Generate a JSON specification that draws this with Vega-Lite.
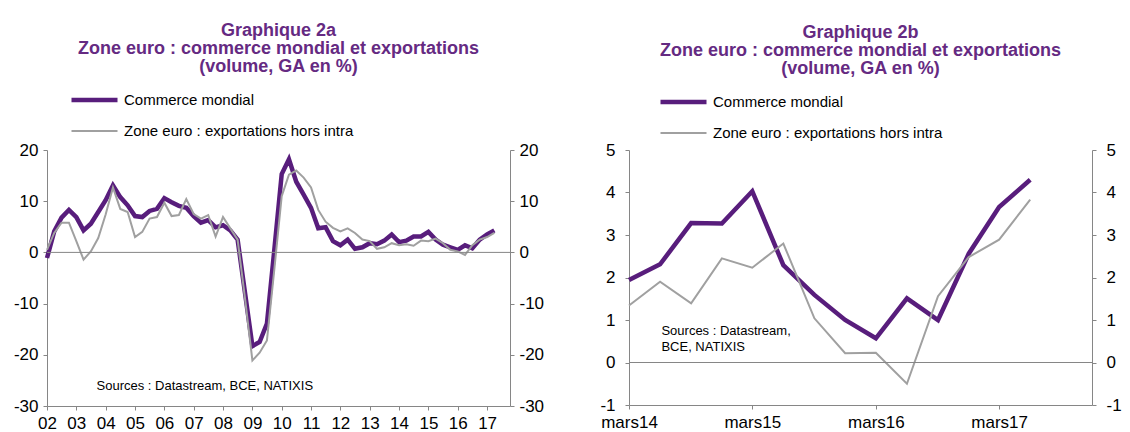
{
  "$schema": "https://vega.github.io/schema/vega-lite/v6.json",
  "padding": {"left": 13, "top": 22, "right": 0, "bottom": 0},
  "spacing": 55,
  "resolve": {"scale": {"color": "independent", "strokeWidth": "independent"}, "legend": {"color": "independent", "strokeWidth": "independent"}},
  "config": {
    "font": "Liberation Sans",
    "view": {"stroke": null},
    "axis": {"domainColor": "#868686", "tickColor": "#868686", "tickSize": 4, "labelFontSize": 17, "labelColor": "#000000", "labelFont": "Liberation Sans", "grid": false, "title": null, "labelPadding": 5, "labelFlush": false, "labelOverlap": false},
    "axisX": {"labelPadding": 5},
    "title": {"font": "Liberation Sans", "fontSize": 18, "fontWeight": "bold", "color": "#652a82", "lineHeight": 18, "anchor": "middle", "offset": 16},
    "legend": {"orient": "none", "title": null, "symbolType": "stroke", "symbolSize": 2116, "clipHeight": 16, "labelFontSize": 15, "labelFont": "Liberation Sans", "labelColor": "#000000", "rowPadding": 15, "labelOffset": 4, "padding": 0, "direction": "vertical", "labelLimit": 400}
  },
  "datasets": {
    "a": [
      {"date": "2002-01-01", "cm": -1.1, "ze": 0.5}, {"date": "2002-04-01", "cm": 4.1, "ze": 3.8}, {"date": "2002-07-01", "cm": 6.8, "ze": 5.8}, {"date": "2002-10-01", "cm": 8.3, "ze": 5.8},
      {"date": "2003-01-01", "cm": 6.9, "ze": 2.2}, {"date": "2003-04-01", "cm": 4.3, "ze": -1.4}, {"date": "2003-07-01", "cm": 5.6, "ze": 0.2}, {"date": "2003-10-01", "cm": 7.9, "ze": 2.8},
      {"date": "2004-01-01", "cm": 10.2, "ze": 7.4}, {"date": "2004-04-01", "cm": 13.1, "ze": 12.7}, {"date": "2004-07-01", "cm": 10.8, "ze": 8.5}, {"date": "2004-10-01", "cm": 9.2, "ze": 7.9},
      {"date": "2005-01-01", "cm": 7.1, "ze": 3.0}, {"date": "2005-04-01", "cm": 6.9, "ze": 4.0}, {"date": "2005-07-01", "cm": 8.1, "ze": 6.6}, {"date": "2005-10-01", "cm": 8.5, "ze": 6.9},
      {"date": "2006-01-01", "cm": 10.6, "ze": 9.7}, {"date": "2006-04-01", "cm": 9.8, "ze": 7.1}, {"date": "2006-07-01", "cm": 9.1, "ze": 7.3}, {"date": "2006-10-01", "cm": 8.7, "ze": 10.4},
      {"date": "2007-01-01", "cm": 7.1, "ze": 7.5}, {"date": "2007-04-01", "cm": 5.8, "ze": 6.6}, {"date": "2007-07-01", "cm": 6.3, "ze": 7.3}, {"date": "2007-10-01", "cm": 4.9, "ze": 3.1},
      {"date": "2008-01-01", "cm": 5.3, "ze": 6.9}, {"date": "2008-04-01", "cm": 4.3, "ze": 4.7}, {"date": "2008-07-01", "cm": 2.5, "ze": 2.5}, {"date": "2008-10-01", "cm": -7.9, "ze": -9.0},
      {"date": "2009-01-01", "cm": -18.3, "ze": -21.1}, {"date": "2009-04-01", "cm": -17.5, "ze": -19.6}, {"date": "2009-07-01", "cm": -13.9, "ze": -17.2}, {"date": "2009-10-01", "cm": 0.5, "ze": -3.3},
      {"date": "2010-01-01", "cm": 15.3, "ze": 11.0}, {"date": "2010-04-01", "cm": 18.2, "ze": 15.2}, {"date": "2010-07-01", "cm": 13.8, "ze": 16.0}, {"date": "2010-10-01", "cm": 11.3, "ze": 14.6},
      {"date": "2011-01-01", "cm": 8.7, "ze": 12.7}, {"date": "2011-04-01", "cm": 4.7, "ze": 8.3}, {"date": "2011-07-01", "cm": 4.9, "ze": 6.0}, {"date": "2011-10-01", "cm": 2.2, "ze": 4.8},
      {"date": "2012-01-01", "cm": 1.4, "ze": 4.1}, {"date": "2012-04-01", "cm": 2.5, "ze": 4.7}, {"date": "2012-07-01", "cm": 0.7, "ze": 3.8}, {"date": "2012-10-01", "cm": 1.0, "ze": 2.5},
      {"date": "2013-01-01", "cm": 1.8, "ze": 2.2}, {"date": "2013-04-01", "cm": 1.6, "ze": 0.7}, {"date": "2013-07-01", "cm": 2.3, "ze": 1.0}, {"date": "2013-10-01", "cm": 3.5, "ze": 1.8},
      {"date": "2014-01-01", "cm": 2.0, "ze": 1.4}, {"date": "2014-04-01", "cm": 2.3, "ze": 1.6}, {"date": "2014-07-01", "cm": 3.1, "ze": 1.3}, {"date": "2014-10-01", "cm": 3.1, "ze": 2.3},
      {"date": "2015-01-01", "cm": 4.0, "ze": 2.2}, {"date": "2015-04-01", "cm": 2.5, "ze": 2.7}, {"date": "2015-07-01", "cm": 1.5, "ze": 1.8}, {"date": "2015-10-01", "cm": 1.0, "ze": 0.5},
      {"date": "2016-01-01", "cm": 0.5, "ze": 0.2}, {"date": "2016-04-01", "cm": 1.4, "ze": -0.5}, {"date": "2016-07-01", "cm": 0.8, "ze": 1.4}, {"date": "2016-10-01", "cm": 2.5, "ze": 2.5},
      {"date": "2017-01-01", "cm": 3.5, "ze": 3.0}, {"date": "2017-04-01", "cm": 4.3, "ze": 3.8}
    ],
    "b": [
      {"date": "2014-03-01", "cm": 1.94, "ze": 1.34}, {"date": "2014-06-01", "cm": 2.31, "ze": 1.90}, {"date": "2014-09-01", "cm": 3.28, "ze": 1.39}, {"date": "2014-12-01", "cm": 3.27, "ze": 2.45},
      {"date": "2015-03-01", "cm": 4.03, "ze": 2.23}, {"date": "2015-06-01", "cm": 2.29, "ze": 2.80}, {"date": "2015-09-01", "cm": 1.59, "ze": 1.04}, {"date": "2015-12-01", "cm": 1.0, "ze": 0.22},
      {"date": "2016-03-01", "cm": 0.57, "ze": 0.23}, {"date": "2016-06-01", "cm": 1.51, "ze": -0.50}, {"date": "2016-09-01", "cm": 1.0, "ze": 1.56}, {"date": "2016-12-01", "cm": 2.56, "ze": 2.48},
      {"date": "2017-03-01", "cm": 3.66, "ze": 2.89}, {"date": "2017-06-01", "cm": 4.3, "ze": 3.83}
    ]
  },
  "hconcat": [
    {
      "width": 463,
      "height": 256,
      "title": {"text": ["Graphique 2a", "Zone euro : commerce mondial et exportations", "(volume, GA en %)"], "lineHeight": 18},
      "layer": [
        {
          "data": {"name": "a"},
          "transform": [{"fold": ["cm", "ze"], "as": ["serie", "val"]}],
          "mark": {"type": "line"},
          "encoding": {
            "x": {"field": "date", "type": "temporal", "scale": {"type": "utc", "domain": [{"year": 2002, "month": 1, "date": 1, "utc": true}, {"year": 2017, "month": 10, "date": 13, "utc": true}]},
              "axis": {"format": "%y", "labelOverlap": false, "values": [
                {"year": 2002, "month": 1, "date": 1, "utc": true}, {"year": 2003, "month": 1, "date": 1, "utc": true}, {"year": 2004, "month": 1, "date": 1, "utc": true}, {"year": 2005, "month": 1, "date": 1, "utc": true},
                {"year": 2006, "month": 1, "date": 1, "utc": true}, {"year": 2007, "month": 1, "date": 1, "utc": true}, {"year": 2008, "month": 1, "date": 1, "utc": true}, {"year": 2009, "month": 1, "date": 1, "utc": true},
                {"year": 2010, "month": 1, "date": 1, "utc": true}, {"year": 2011, "month": 1, "date": 1, "utc": true}, {"year": 2012, "month": 1, "date": 1, "utc": true}, {"year": 2013, "month": 1, "date": 1, "utc": true},
                {"year": 2014, "month": 1, "date": 1, "utc": true}, {"year": 2015, "month": 1, "date": 1, "utc": true}, {"year": 2016, "month": 1, "date": 1, "utc": true}, {"year": 2017, "month": 1, "date": 1, "utc": true}
              ]}},
            "y": {"field": "val", "type": "quantitative", "scale": {"domain": [-30, 20], "nice": false}, "axis": {"values": [-30, -20, -10, 0, 10, 20], "labelExpr": "'' + datum.value"}},
            "color": {"field": "serie", "type": "nominal", "scale": {"domain": ["cm", "ze"], "range": ["#581d7c", "#a0a0a0"]},
              "legend": {"legendX": 22, "legendY": -58, "labelExpr": "datum.label == 'cm' ? 'Commerce mondial' : 'Zone euro : exportations hors intra'"}},
            "strokeWidth": {"field": "serie", "type": "nominal", "scale": {"domain": ["cm", "ze"], "range": [4.5, 2]},
              "legend": {"legendX": 22, "legendY": -58, "labelExpr": "datum.label == 'cm' ? 'Commerce mondial' : 'Zone euro : exportations hors intra'"}}
          }
        },
        {
          "data": {"values": [{}]},
          "mark": {"type": "rule", "color": "#868686", "strokeWidth": 1},
          "encoding": {"y": {"datum": 0, "type": "quantitative", "axis": {"orient": "right", "values": [-30, -20, -10, 0, 10, 20], "labelExpr": "'' + datum.value"}}}
        },
        {
          "data": {"values": [{}]},
          "mark": {"type": "text", "text": "Sources : Datastream, BCE, NATIXIS", "align": "left", "baseline": "middle", "fontSize": 13, "font": "Liberation Sans", "color": "#000000"},
          "encoding": {
            "x": {"datum": {"year": 2003, "month": 9, "date": 10, "utc": true}, "type": "temporal",
              "axis": {"format": "%y", "labelOverlap": false, "values": [
                {"year": 2002, "month": 1, "date": 1, "utc": true}, {"year": 2003, "month": 1, "date": 1, "utc": true}, {"year": 2004, "month": 1, "date": 1, "utc": true}, {"year": 2005, "month": 1, "date": 1, "utc": true},
                {"year": 2006, "month": 1, "date": 1, "utc": true}, {"year": 2007, "month": 1, "date": 1, "utc": true}, {"year": 2008, "month": 1, "date": 1, "utc": true}, {"year": 2009, "month": 1, "date": 1, "utc": true},
                {"year": 2010, "month": 1, "date": 1, "utc": true}, {"year": 2011, "month": 1, "date": 1, "utc": true}, {"year": 2012, "month": 1, "date": 1, "utc": true}, {"year": 2013, "month": 1, "date": 1, "utc": true},
                {"year": 2014, "month": 1, "date": 1, "utc": true}, {"year": 2015, "month": 1, "date": 1, "utc": true}, {"year": 2016, "month": 1, "date": 1, "utc": true}, {"year": 2017, "month": 1, "date": 1, "utc": true}
              ]}},
            "y": {"datum": -26, "type": "quantitative", "axis": null}
          }
        }
      ],
      "resolve": {"axis": {"y": "independent"}}
    },
    {
      "width": 463,
      "height": 255,
      "title": {"text": ["Graphique 2b", "Zone euro : commerce mondial et exportations", "(volume, GA en %)"], "lineHeight": 18},
      "layer": [
        {
          "data": {"name": "b"},
          "transform": [{"fold": ["cm", "ze"], "as": ["serie", "val"]}],
          "mark": {"type": "line"},
          "encoding": {
            "x": {"field": "date", "type": "temporal", "scale": {"type": "utc", "domain": [{"year": 2014, "month": 3, "date": 1, "utc": true}, {"year": 2017, "month": 12, "date": 1, "utc": true}]},
              "axis": {"labelExpr": "'mars' + utcFormat(datum.value, '%y')", "labelOverlap": false, "values": [
                {"year": 2014, "month": 3, "date": 1, "utc": true}, {"year": 2015, "month": 3, "date": 1, "utc": true}, {"year": 2016, "month": 3, "date": 1, "utc": true}, {"year": 2017, "month": 3, "date": 1, "utc": true}
              ]}},
            "y": {"field": "val", "type": "quantitative", "scale": {"domain": [-1, 5], "nice": false}, "axis": {"values": [-1, 0, 1, 2, 3, 4, 5], "labelPadding": 10, "labelExpr": "'' + datum.value"}},
            "color": {"field": "serie", "type": "nominal", "scale": {"domain": ["cm", "ze"], "range": ["#581d7c", "#a0a0a0"]},
              "legend": {"legendX": 29, "legendY": -56, "labelExpr": "datum.label == 'cm' ? 'Commerce mondial' : 'Zone euro : exportations hors intra'"}},
            "strokeWidth": {"field": "serie", "type": "nominal", "scale": {"domain": ["cm", "ze"], "range": [4.5, 2]},
              "legend": {"legendX": 29, "legendY": -56, "labelExpr": "datum.label == 'cm' ? 'Commerce mondial' : 'Zone euro : exportations hors intra'"}}
          }
        },
        {
          "data": {"values": [{}]},
          "mark": {"type": "rule", "color": "#868686", "strokeWidth": 1},
          "encoding": {"y": {"datum": 0, "type": "quantitative", "axis": {"orient": "right", "values": [-1, 0, 1, 2, 3, 4, 5], "labelPadding": 10, "labelExpr": "'' + datum.value"}}}
        },
        {
          "data": {"values": [{}]},
          "mark": {"type": "text", "text": ["Sources : Datastream,", "BCE, NATIXIS"], "lineHeight": 16, "align": "left", "baseline": "middle", "fontSize": 13, "font": "Liberation Sans", "color": "#000000"},
          "encoding": {
            "x": {"datum": {"year": 2014, "month": 6, "date": 5, "utc": true}, "type": "temporal",
              "axis": {"labelExpr": "'mars' + utcFormat(datum.value, '%y')", "labelOverlap": false, "values": [
                {"year": 2014, "month": 3, "date": 1, "utc": true}, {"year": 2015, "month": 3, "date": 1, "utc": true}, {"year": 2016, "month": 3, "date": 1, "utc": true}, {"year": 2017, "month": 3, "date": 1, "utc": true}
              ]}},
            "y": {"datum": 0.74, "type": "quantitative", "axis": null}
          }
        }
      ],
      "resolve": {"axis": {"y": "independent"}}
    }
  ]
}
